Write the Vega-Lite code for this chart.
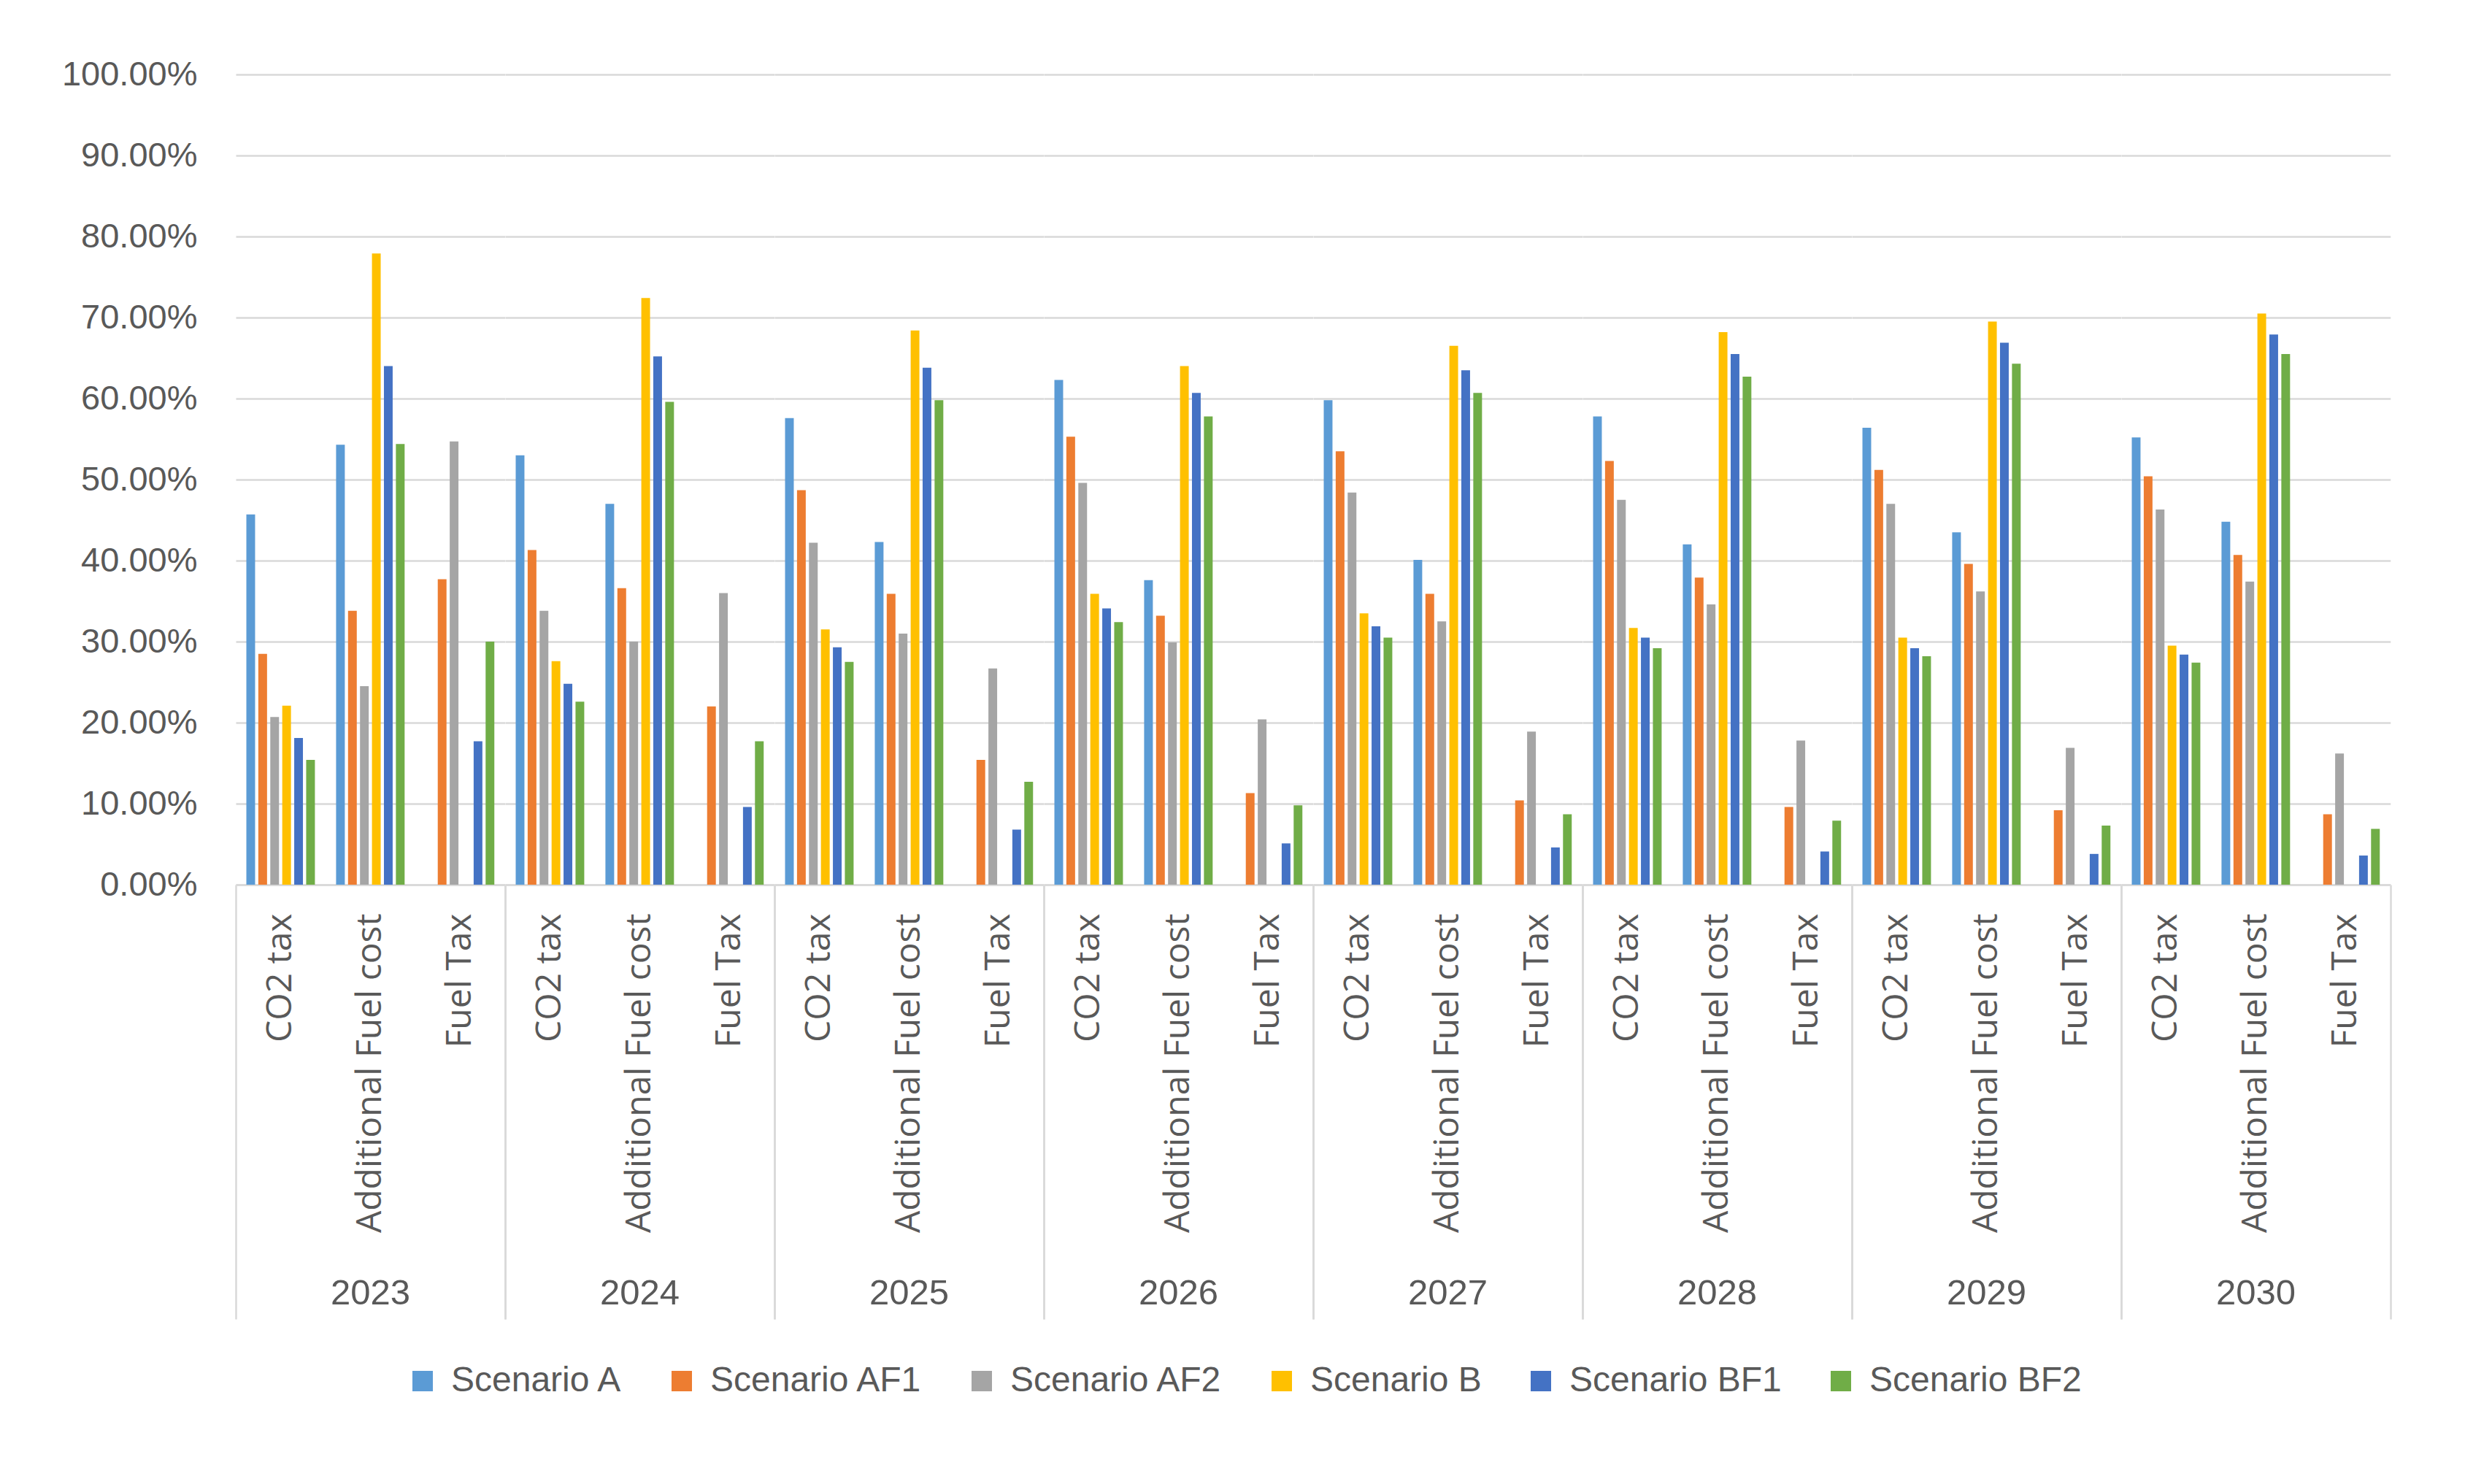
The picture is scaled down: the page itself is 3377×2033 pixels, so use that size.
{
  "$schema": "https://vega.github.io/schema/vega-lite/v6.json",
  "padding": {"left": 84, "top": 78, "right": 0, "bottom": 0},
  "background": "white",
  "data": {
    "values": [
      {"year": "2023", "cost": "CO2 tax", "scenario": "Scenario A", "share": 0.457},
      {"year": "2023", "cost": "CO2 tax", "scenario": "Scenario AF1", "share": 0.285},
      {"year": "2023", "cost": "CO2 tax", "scenario": "Scenario AF2", "share": 0.207},
      {"year": "2023", "cost": "CO2 tax", "scenario": "Scenario B", "share": 0.221},
      {"year": "2023", "cost": "CO2 tax", "scenario": "Scenario BF1", "share": 0.181},
      {"year": "2023", "cost": "CO2 tax", "scenario": "Scenario BF2", "share": 0.154},
      {"year": "2023", "cost": "Additional Fuel cost", "scenario": "Scenario A", "share": 0.543},
      {"year": "2023", "cost": "Additional Fuel cost", "scenario": "Scenario AF1", "share": 0.338},
      {"year": "2023", "cost": "Additional Fuel cost", "scenario": "Scenario AF2", "share": 0.245},
      {"year": "2023", "cost": "Additional Fuel cost", "scenario": "Scenario B", "share": 0.779},
      {"year": "2023", "cost": "Additional Fuel cost", "scenario": "Scenario BF1", "share": 0.640},
      {"year": "2023", "cost": "Additional Fuel cost", "scenario": "Scenario BF2", "share": 0.544},
      {"year": "2023", "cost": "Fuel Tax", "scenario": "Scenario AF1", "share": 0.377},
      {"year": "2023", "cost": "Fuel Tax", "scenario": "Scenario AF2", "share": 0.547},
      {"year": "2023", "cost": "Fuel Tax", "scenario": "Scenario BF1", "share": 0.177},
      {"year": "2023", "cost": "Fuel Tax", "scenario": "Scenario BF2", "share": 0.300},

      {"year": "2024", "cost": "CO2 tax", "scenario": "Scenario A", "share": 0.530},
      {"year": "2024", "cost": "CO2 tax", "scenario": "Scenario AF1", "share": 0.413},
      {"year": "2024", "cost": "CO2 tax", "scenario": "Scenario AF2", "share": 0.338},
      {"year": "2024", "cost": "CO2 tax", "scenario": "Scenario B", "share": 0.276},
      {"year": "2024", "cost": "CO2 tax", "scenario": "Scenario BF1", "share": 0.248},
      {"year": "2024", "cost": "CO2 tax", "scenario": "Scenario BF2", "share": 0.226},
      {"year": "2024", "cost": "Additional Fuel cost", "scenario": "Scenario A", "share": 0.470},
      {"year": "2024", "cost": "Additional Fuel cost", "scenario": "Scenario AF1", "share": 0.366},
      {"year": "2024", "cost": "Additional Fuel cost", "scenario": "Scenario AF2", "share": 0.300},
      {"year": "2024", "cost": "Additional Fuel cost", "scenario": "Scenario B", "share": 0.724},
      {"year": "2024", "cost": "Additional Fuel cost", "scenario": "Scenario BF1", "share": 0.652},
      {"year": "2024", "cost": "Additional Fuel cost", "scenario": "Scenario BF2", "share": 0.596},
      {"year": "2024", "cost": "Fuel Tax", "scenario": "Scenario AF1", "share": 0.220},
      {"year": "2024", "cost": "Fuel Tax", "scenario": "Scenario AF2", "share": 0.360},
      {"year": "2024", "cost": "Fuel Tax", "scenario": "Scenario BF1", "share": 0.096},
      {"year": "2024", "cost": "Fuel Tax", "scenario": "Scenario BF2", "share": 0.177},

      {"year": "2025", "cost": "CO2 tax", "scenario": "Scenario A", "share": 0.576},
      {"year": "2025", "cost": "CO2 tax", "scenario": "Scenario AF1", "share": 0.487},
      {"year": "2025", "cost": "CO2 tax", "scenario": "Scenario AF2", "share": 0.422},
      {"year": "2025", "cost": "CO2 tax", "scenario": "Scenario B", "share": 0.315},
      {"year": "2025", "cost": "CO2 tax", "scenario": "Scenario BF1", "share": 0.293},
      {"year": "2025", "cost": "CO2 tax", "scenario": "Scenario BF2", "share": 0.275},
      {"year": "2025", "cost": "Additional Fuel cost", "scenario": "Scenario A", "share": 0.423},
      {"year": "2025", "cost": "Additional Fuel cost", "scenario": "Scenario AF1", "share": 0.359},
      {"year": "2025", "cost": "Additional Fuel cost", "scenario": "Scenario AF2", "share": 0.310},
      {"year": "2025", "cost": "Additional Fuel cost", "scenario": "Scenario B", "share": 0.684},
      {"year": "2025", "cost": "Additional Fuel cost", "scenario": "Scenario BF1", "share": 0.638},
      {"year": "2025", "cost": "Additional Fuel cost", "scenario": "Scenario BF2", "share": 0.598},
      {"year": "2025", "cost": "Fuel Tax", "scenario": "Scenario AF1", "share": 0.154},
      {"year": "2025", "cost": "Fuel Tax", "scenario": "Scenario AF2", "share": 0.267},
      {"year": "2025", "cost": "Fuel Tax", "scenario": "Scenario BF1", "share": 0.068},
      {"year": "2025", "cost": "Fuel Tax", "scenario": "Scenario BF2", "share": 0.127},

      {"year": "2026", "cost": "CO2 tax", "scenario": "Scenario A", "share": 0.623},
      {"year": "2026", "cost": "CO2 tax", "scenario": "Scenario AF1", "share": 0.553},
      {"year": "2026", "cost": "CO2 tax", "scenario": "Scenario AF2", "share": 0.496},
      {"year": "2026", "cost": "CO2 tax", "scenario": "Scenario B", "share": 0.359},
      {"year": "2026", "cost": "CO2 tax", "scenario": "Scenario BF1", "share": 0.341},
      {"year": "2026", "cost": "CO2 tax", "scenario": "Scenario BF2", "share": 0.324},
      {"year": "2026", "cost": "Additional Fuel cost", "scenario": "Scenario A", "share": 0.376},
      {"year": "2026", "cost": "Additional Fuel cost", "scenario": "Scenario AF1", "share": 0.332},
      {"year": "2026", "cost": "Additional Fuel cost", "scenario": "Scenario AF2", "share": 0.299},
      {"year": "2026", "cost": "Additional Fuel cost", "scenario": "Scenario B", "share": 0.640},
      {"year": "2026", "cost": "Additional Fuel cost", "scenario": "Scenario BF1", "share": 0.607},
      {"year": "2026", "cost": "Additional Fuel cost", "scenario": "Scenario BF2", "share": 0.578},
      {"year": "2026", "cost": "Fuel Tax", "scenario": "Scenario AF1", "share": 0.113},
      {"year": "2026", "cost": "Fuel Tax", "scenario": "Scenario AF2", "share": 0.204},
      {"year": "2026", "cost": "Fuel Tax", "scenario": "Scenario BF1", "share": 0.051},
      {"year": "2026", "cost": "Fuel Tax", "scenario": "Scenario BF2", "share": 0.098},

      {"year": "2027", "cost": "CO2 tax", "scenario": "Scenario A", "share": 0.598},
      {"year": "2027", "cost": "CO2 tax", "scenario": "Scenario AF1", "share": 0.535},
      {"year": "2027", "cost": "CO2 tax", "scenario": "Scenario AF2", "share": 0.484},
      {"year": "2027", "cost": "CO2 tax", "scenario": "Scenario B", "share": 0.335},
      {"year": "2027", "cost": "CO2 tax", "scenario": "Scenario BF1", "share": 0.319},
      {"year": "2027", "cost": "CO2 tax", "scenario": "Scenario BF2", "share": 0.305},
      {"year": "2027", "cost": "Additional Fuel cost", "scenario": "Scenario A", "share": 0.401},
      {"year": "2027", "cost": "Additional Fuel cost", "scenario": "Scenario AF1", "share": 0.359},
      {"year": "2027", "cost": "Additional Fuel cost", "scenario": "Scenario AF2", "share": 0.325},
      {"year": "2027", "cost": "Additional Fuel cost", "scenario": "Scenario B", "share": 0.665},
      {"year": "2027", "cost": "Additional Fuel cost", "scenario": "Scenario BF1", "share": 0.635},
      {"year": "2027", "cost": "Additional Fuel cost", "scenario": "Scenario BF2", "share": 0.607},
      {"year": "2027", "cost": "Fuel Tax", "scenario": "Scenario AF1", "share": 0.104},
      {"year": "2027", "cost": "Fuel Tax", "scenario": "Scenario AF2", "share": 0.189},
      {"year": "2027", "cost": "Fuel Tax", "scenario": "Scenario BF1", "share": 0.046},
      {"year": "2027", "cost": "Fuel Tax", "scenario": "Scenario BF2", "share": 0.087},

      {"year": "2028", "cost": "CO2 tax", "scenario": "Scenario A", "share": 0.578},
      {"year": "2028", "cost": "CO2 tax", "scenario": "Scenario AF1", "share": 0.523},
      {"year": "2028", "cost": "CO2 tax", "scenario": "Scenario AF2", "share": 0.475},
      {"year": "2028", "cost": "CO2 tax", "scenario": "Scenario B", "share": 0.317},
      {"year": "2028", "cost": "CO2 tax", "scenario": "Scenario BF1", "share": 0.305},
      {"year": "2028", "cost": "CO2 tax", "scenario": "Scenario BF2", "share": 0.292},
      {"year": "2028", "cost": "Additional Fuel cost", "scenario": "Scenario A", "share": 0.420},
      {"year": "2028", "cost": "Additional Fuel cost", "scenario": "Scenario AF1", "share": 0.379},
      {"year": "2028", "cost": "Additional Fuel cost", "scenario": "Scenario AF2", "share": 0.346},
      {"year": "2028", "cost": "Additional Fuel cost", "scenario": "Scenario B", "share": 0.682},
      {"year": "2028", "cost": "Additional Fuel cost", "scenario": "Scenario BF1", "share": 0.655},
      {"year": "2028", "cost": "Additional Fuel cost", "scenario": "Scenario BF2", "share": 0.627},
      {"year": "2028", "cost": "Fuel Tax", "scenario": "Scenario AF1", "share": 0.096},
      {"year": "2028", "cost": "Fuel Tax", "scenario": "Scenario AF2", "share": 0.178},
      {"year": "2028", "cost": "Fuel Tax", "scenario": "Scenario BF1", "share": 0.041},
      {"year": "2028", "cost": "Fuel Tax", "scenario": "Scenario BF2", "share": 0.079},

      {"year": "2029", "cost": "CO2 tax", "scenario": "Scenario A", "share": 0.564},
      {"year": "2029", "cost": "CO2 tax", "scenario": "Scenario AF1", "share": 0.512},
      {"year": "2029", "cost": "CO2 tax", "scenario": "Scenario AF2", "share": 0.470},
      {"year": "2029", "cost": "CO2 tax", "scenario": "Scenario B", "share": 0.305},
      {"year": "2029", "cost": "CO2 tax", "scenario": "Scenario BF1", "share": 0.292},
      {"year": "2029", "cost": "CO2 tax", "scenario": "Scenario BF2", "share": 0.282},
      {"year": "2029", "cost": "Additional Fuel cost", "scenario": "Scenario A", "share": 0.435},
      {"year": "2029", "cost": "Additional Fuel cost", "scenario": "Scenario AF1", "share": 0.396},
      {"year": "2029", "cost": "Additional Fuel cost", "scenario": "Scenario AF2", "share": 0.362},
      {"year": "2029", "cost": "Additional Fuel cost", "scenario": "Scenario B", "share": 0.695},
      {"year": "2029", "cost": "Additional Fuel cost", "scenario": "Scenario BF1", "share": 0.669},
      {"year": "2029", "cost": "Additional Fuel cost", "scenario": "Scenario BF2", "share": 0.643},
      {"year": "2029", "cost": "Fuel Tax", "scenario": "Scenario AF1", "share": 0.092},
      {"year": "2029", "cost": "Fuel Tax", "scenario": "Scenario AF2", "share": 0.169},
      {"year": "2029", "cost": "Fuel Tax", "scenario": "Scenario BF1", "share": 0.038},
      {"year": "2029", "cost": "Fuel Tax", "scenario": "Scenario BF2", "share": 0.073},

      {"year": "2030", "cost": "CO2 tax", "scenario": "Scenario A", "share": 0.552},
      {"year": "2030", "cost": "CO2 tax", "scenario": "Scenario AF1", "share": 0.504},
      {"year": "2030", "cost": "CO2 tax", "scenario": "Scenario AF2", "share": 0.463},
      {"year": "2030", "cost": "CO2 tax", "scenario": "Scenario B", "share": 0.295},
      {"year": "2030", "cost": "CO2 tax", "scenario": "Scenario BF1", "share": 0.284},
      {"year": "2030", "cost": "CO2 tax", "scenario": "Scenario BF2", "share": 0.274},
      {"year": "2030", "cost": "Additional Fuel cost", "scenario": "Scenario A", "share": 0.448},
      {"year": "2030", "cost": "Additional Fuel cost", "scenario": "Scenario AF1", "share": 0.407},
      {"year": "2030", "cost": "Additional Fuel cost", "scenario": "Scenario AF2", "share": 0.374},
      {"year": "2030", "cost": "Additional Fuel cost", "scenario": "Scenario B", "share": 0.705},
      {"year": "2030", "cost": "Additional Fuel cost", "scenario": "Scenario BF1", "share": 0.679},
      {"year": "2030", "cost": "Additional Fuel cost", "scenario": "Scenario BF2", "share": 0.655},
      {"year": "2030", "cost": "Fuel Tax", "scenario": "Scenario AF1", "share": 0.087},
      {"year": "2030", "cost": "Fuel Tax", "scenario": "Scenario AF2", "share": 0.162},
      {"year": "2030", "cost": "Fuel Tax", "scenario": "Scenario BF1", "share": 0.036},
      {"year": "2030", "cost": "Fuel Tax", "scenario": "Scenario BF2", "share": 0.069}
    ]
  },
  "facet": {
    "column": {
      "field": "year",
      "type": "ordinal",
      "header": {
        "title": null,
        "labelOrient": "bottom",
        "labelFont": "Liberation Sans",
        "labelFontSize": 49,
        "labelColor": "#595959",
        "labelPadding": -60
      }
    }
  },
  "spacing": 0,
  "spec": {
    "width": 368.75,
    "height": 1110,
    "mark": {"type": "bar"},
    "encoding": {
      "x": {
        "field": "cost",
        "type": "nominal",
        "sort": ["CO2 tax", "Additional Fuel cost", "Fuel Tax"],
        "scale": {"paddingInner": 0, "paddingOuter": 0},
        "title": null,
        "axis": {
          "labelAngle": -90,
          "labelFont": "Open Sans",
          "labelFontSize": 48,
          "labelColor": "#595959",
          "labelPadding": -556,
          "labelLimit": 0,
          "domainColor": "#d9d9d9",
          "domainWidth": 2.5,
          "tickBand": "extent",
          "tickSize": 595,
          "tickColor": "#d9d9d9",
          "tickWidth": 2.5,
          "tickOpacity": {
            "condition": {"test": "datum.value === 'Fuel Tax' || datum.extra", "value": 1},
            "value": 0
          }
        }
      },
      "xOffset": {
        "field": "scenario",
        "type": "nominal",
        "sort": ["Scenario A", "Scenario AF1", "Scenario AF2", "Scenario B", "Scenario BF1", "Scenario BF2"],
        "scale": {"paddingInner": 0.27, "paddingOuter": 0.885}
      },
      "y": {
        "field": "share",
        "type": "quantitative",
        "scale": {"domain": [0, 1]},
        "title": null,
        "axis": {
          "values": [0, 0.1, 0.2, 0.3, 0.4, 0.5, 0.6, 0.7, 0.8, 0.9, 1],
          "format": ".2%",
          "labelFont": "Liberation Sans",
          "labelFontSize": 47,
          "labelColor": "#595959",
          "labelPadding": 53,
          "labelLimit": 0,
          "ticks": false,
          "domain": false,
          "gridColor": "#d9d9d9",
          "gridWidth": 2.5
        }
      },
      "color": {
        "field": "scenario",
        "type": "nominal",
        "scale": {
          "domain": ["Scenario A", "Scenario AF1", "Scenario AF2", "Scenario B", "Scenario BF1", "Scenario BF2"],
          "range": ["#5b9bd5", "#ed7d31", "#a5a5a5", "#ffc000", "#4472c4", "#70ad47"]
        },
        "legend": {
          "orient": "none",
          "legendX": 232,
          "legendY": 1766,
          "direction": "horizontal",
          "title": null,
          "symbolType": "square",
          "symbolSize": 784,
          "symbolStrokeWidth": 0,
          "labelFont": "Liberation Sans",
          "labelFontSize": 48,
          "labelColor": "#595959",
          "labelOffset": 15,
          "labelLimit": 0,
          "columnPadding": 57
        }
      }
    }
  },
  "config": {"view": {"stroke": null}}
}
